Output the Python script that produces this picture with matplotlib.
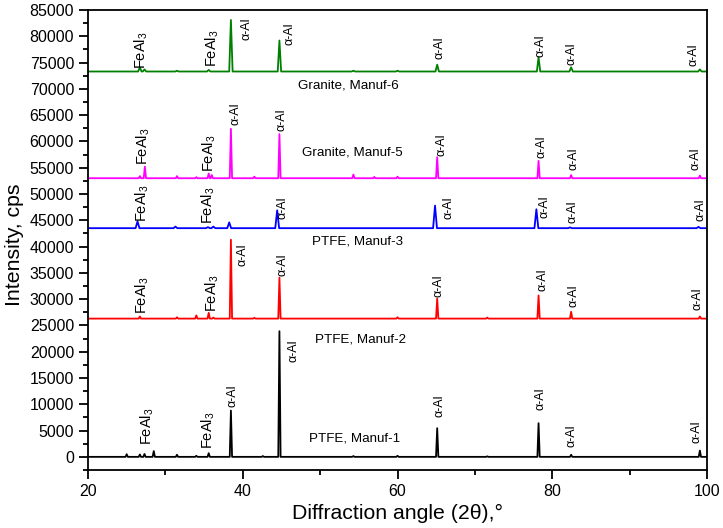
import numpy as np
import matplotlib
matplotlib.use("Agg")
import matplotlib.pyplot as plt

plt.rcParams['font.family'] = ['Liberation Sans', 'DejaVu Sans']
plt.rcParams['mathtext.fontset'] = 'custom'
plt.rcParams['mathtext.rm'] = 'Liberation Sans'
plt.rcParams['mathtext.it'] = 'Liberation Sans'

# peak positions (2theta) and heights above baseline (cps)
base1 = 0
pos1 = [25.0, 26.7, 27.3, 28.5, 31.5, 34.0, 35.6, 38.47, 42.6, 44.74, 54.3, 60.0, 65.13, 71.6, 78.23, 82.44, 99.08]
h1 = [500, 450, 550, 1100, 400, 200, 700, 8800, 150, 23900, 150, 200, 5450, 100, 6400, 400, 1200]

base2 = 26300
pos2 = [26.7, 31.5, 34.0, 35.6, 36.2, 38.47, 41.5, 44.74, 60.0, 65.13, 71.6, 78.23, 82.44, 99.08]
h2 = [400, 250, 600, 1100, 200, 15000, 150, 7800, 250, 3800, 200, 4400, 1300, 400]

base3 = 43500
pos3 = [26.4, 31.3, 35.5, 36.2, 38.25, 44.45, 64.85, 77.95, 82.3, 98.9]
h3 = [1300, 300, 200, 300, 1100, 3400, 4300, 3600, 150, 250]

base5 = 53000
pos5 = [26.7, 27.35, 31.5, 34.0, 35.6, 36.0, 38.47, 41.5, 44.74, 54.3, 57.0, 60.0, 65.13, 78.23, 82.44, 99.08]
h5 = [400, 2200, 400, 200, 900, 600, 9400, 300, 8400, 700, 250, 300, 4000, 3300, 600, 500]

base6 = 73300
pos6 = [26.7, 27.3, 31.5, 35.6, 38.47, 44.74, 54.3, 60.0, 65.13, 78.23, 82.44, 99.08]
h6 = [800, 400, 150, 300, 9800, 5900, 150, 150, 1300, 2700, 800, 400]

names = ["PTFE, Manuf-1", "PTFE, Manuf-2", "PTFE, Manuf-3", "Granite, Manuf-5", "Granite, Manuf-6"]

fe = "FeAl$_3$"
al = "α-Al"


def pattern(base, pos, h, w):
    xs = [20.0]
    ys = [base]
    for p, v in zip(pos, h):
        xs += [p - w, p, p + w]
        ys += [base, base + v, base]
    xs.append(100.0)
    ys.append(base)
    return xs, ys


fig = plt.figure(figsize=(7.23, 5.28), dpi=100)
ax = fig.add_axes([88/723, 1 - 470/528, (707-88)/723, (470-10)/528])

traces = [(base1, pos1, h1, 'black', 0.15),
          (base2, pos2, h2, 'red', 0.15),
          (base3, pos3, h3, 'blue', 0.25),
          (base5, pos5, h5, '#ff00ff', 0.15),
          (base6, pos6, h6, '#008000', 0.22)]
for base, pos, h, c, w in traces:
    x, y = pattern(base, pos, h, w)
    ax.plot(x, y, color=c, lw=1.3)

# sample names
name_xy = [(48.6, 3500), (49.4, 22400), (48.9, 41000), (47.7, 57800), (47.1, 70700)]
for (x, y), s in zip(name_xy, names):
    ax.text(x, y, s, fontsize=9.6, va='center', ha='left')

# phase labels
labels = [
    (27.6, 5900, fe), (35.5, 5000, fe), (38.7, 11600, al), (46.5, 20100, al),
    (65.4, 9700, al), (78.5, 11000, al), (82.5, 4000, al), (98.7, 4700, al),
    (27.0, 30700, fe), (36.0, 31200, fe), (40.0, 38500, al), (45.2, 36500, al),
    (65.3, 32600, al), (78.7, 33700, al), (82.8, 30700, al), (98.8, 30100, al),
    (27.0, 48300, fe), (35.6, 47800, fe), (45.2, 47300, al),
    (66.6, 47300, al), (79.0, 47600, al), (82.6, 46700, al), (99.1, 47000, al),
    (27.2, 59000, fe), (35.7, 57800, fe), (39.0, 65300, al), (45.0, 64100, al),
    (65.7, 59300, al), (78.6, 59000, al), (82.7, 56700, al), (98.5, 56800, al),
    (26.9, 77400, fe), (36.0, 77800, fe), (40.5, 81500, al), (46.0, 80500, al),
    (65.4, 77800, al), (78.5, 78200, al), (82.5, 76700, al), (98.2, 76500, al),
]
for x, y, s in labels:
    fs = 10.5 if s == fe else 9
    ax.text(x, y, s, rotation=90, ha='center', va='center', fontsize=fs)

ax.set_xlim(20, 100)
ax.set_ylim(-2500, 85000)
ax.set_xticks([20, 40, 60, 80, 100])
ax.set_xticks(np.arange(30, 100, 20), minor=True)
ax.set_yticks(np.arange(0, 85001, 5000))
ax.set_yticks(np.arange(-2500, 85000, 5000), minor=True)
ax.tick_params(which='both', direction='out', width=1.3, labelsize=11.5)
ax.tick_params(which='major', length=6.5)
ax.tick_params(which='minor', length=3.5)
for sp in ax.spines.values():
    sp.set_linewidth(1.3)

ax.set_xlabel("Diffraction angle (2θ),°", fontsize=15.3)
ax.set_ylabel("Intensity, cps", fontsize=15.3)
ax.xaxis.set_label_coords(0.5, -0.074)
ax.yaxis.set_label_coords(-0.103, 0.49)

fig.savefig("out.png", dpi=100)
